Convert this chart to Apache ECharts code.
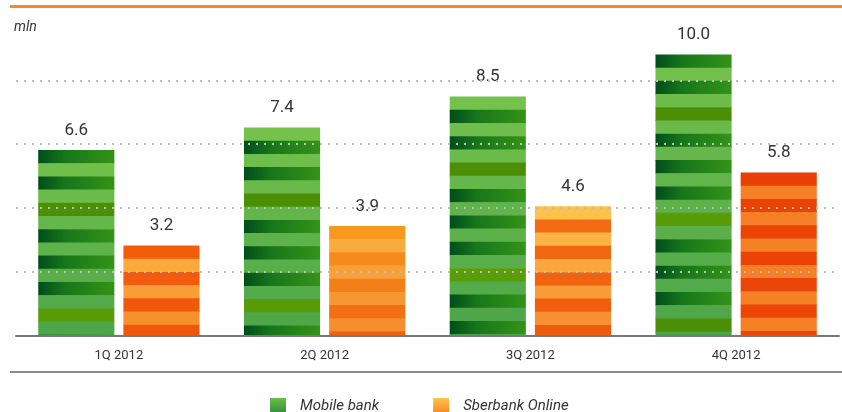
<!DOCTYPE html>
<html>
<head>
<meta charset="utf-8">
<script src="https://cdn.jsdelivr.net/npm/echarts@6/dist/echarts.min.js"></script>
<style>
  html, body { margin: 0; padding: 0; background: #fff; }
  #chart { width: 842px; height: 412px; }
</style>
</head>
<body>
<div id="chart"></div>
<script>
var categories = ['1Q 2012', '2Q 2012', '3Q 2012', '4Q 2012'];
var mobileBank = [6.6, 7.4, 8.5, 10.0];
var sberbankOnline = [3.2, 3.9, 4.6, 5.8];
var unitLabel = 'mln';

var FONT = 'Roboto';
var STRIPE = 13.2;

function mix(a, b, t) {
  var pa = parseInt(a.slice(1), 16), pb = parseInt(b.slice(1), 16);
  var r = Math.round(((pa >> 16) & 255) * (1 - t) + ((pb >> 16) & 255) * t);
  var g = Math.round(((pa >> 8) & 255) * (1 - t) + ((pb >> 8) & 255) * t);
  var bl = Math.round((pa & 255) * (1 - t) + (pb & 255) * t);
  return 'rgb(' + r + ',' + g + ',' + bl + ')';
}

// stripe looks for each series (style only)
var greenLook = {
  side: -1,
  phase: [0, 1, 1, 0],
  fill: function(k, darkIdx, t, bar) {
    if (k % 2 === 0) {
      if (darkIdx % 4 === 2) return darkIdx % 8 === 2 ? '#4c8f06' : '#5a9c08';
      return new echarts.graphic.LinearGradient(0, 0, 1, 0, [
        {offset: 0, color: '#004d1a'},
        {offset: 0.35, color: '#17761a'},
        {offset: 1, color: '#349317'}
      ]);
    }
    return mix('#74c14b', '#4aa44a', t);
  }
};

var orangeDark = [['#f25d0b', '#ef560a'], ['#f8991f', '#f0600e'], ['#f36d13', '#f05a0c'], ['#ea4006', '#ec4607']];
var orangeLight = [['#fbb040', '#f58628'], ['#fbb042', '#f5862a'], ['#fec14c', '#f5852a'], ['#f58026', '#f58026']];
var orangeLook = {
  side: 1,
  phase: [0, 0, 1, 0],
  fill: function(k, darkIdx, t, bar) {
    var p = k % 2 === 0 ? orangeDark[bar] : orangeLight[bar];
    return mix(p[0], p[1], t);
  }
};

function makeRender(look) {
  return function(params, api) {
    var idx = api.value(0);
    var val = api.value(1);
    var base = api.coord([idx, 0]);
    var top = api.coord([idx, val]);
    var band = api.size([1, 0])[0];
    var w = band * 0.37;
    var gap = band * 0.044;
    var x = look.side < 0 ? base[0] - gap / 2 - w : base[0] + gap / 2;
    var children = [];
    var y = top[1];
    var k = look.phase[idx];
    var darkIdx = 0;
    var total = base[1] - top[1];
    while (y < base[1] - 0.5) {
      var hh = Math.min(STRIPE, base[1] - y);
      var t = (y - top[1]) / total;
      children.push({
        type: 'rect',
        shape: {x: x, y: y, width: w, height: hh + 0.6},
        style: {fill: look.fill(k, darkIdx, t, idx)}
      });
      if (k % 2 === 0) darkIdx++;
      y += STRIPE;
      k++;
    }
    children.push({
      type: 'text',
      style: {
        text: val.toFixed(1),
        x: x + w / 2,
        y: top[1] - 11,
        align: 'center',
        verticalAlign: 'bottom',
        fontSize: 17,
        fontFamily: FONT,
        fill: '#333'
      }
    });
    return {type: 'group', children: children};
  };
}

var chart = echarts.init(document.getElementById('chart'));

chart.setOption({
  animation: false,
  backgroundColor: '#fff',
  textStyle: {fontFamily: FONT},
  title: {
    text: unitLabel,
    left: 9,
    top: 15,
    textStyle: {fontSize: 14, fontStyle: 'italic', fontWeight: 'normal', color: '#333', fontFamily: FONT}
  },
  graphic: [
    {type: 'rect', left: 10, top: 5, shape: {width: 832, height: 3}, style: {fill: '#f28c28'}},
    {type: 'rect', left: 10, top: 371, shape: {width: 832, height: 2}, style: {fill: '#8c8c8c'}}
  ],
  legend: {
    left: 265,
    top: 393,
    itemWidth: 16,
    itemHeight: 16,
    itemGap: 54,
    icon: 'rect',
    data: ['Mobile bank', 'Sberbank Online'],
    textStyle: {fontSize: 15, fontStyle: 'italic', color: '#333', fontFamily: FONT, padding: [0, 0, 0, 9]}
  },
  grid: {left: 16, right: 3, top: 16.5, bottom: 76.5},
  xAxis: {
    type: 'category',
    data: categories,
    z: 6,
    axisLine: {lineStyle: {color: '#777', width: 2}},
    axisTick: {show: false},
    axisLabel: {fontSize: 13, color: '#333', margin: 14, fontFamily: FONT}
  },
  yAxis: {
    type: 'value',
    min: 0,
    max: 11.35,
    interval: 2.27,
    z: 5,
    axisLabel: {show: false},
    axisLine: {show: false},
    axisTick: {show: false},
    splitLine: {
      showMinLine: false,
      showMaxLine: false,
      lineStyle: {color: '#bdbdbd', width: 2, type: [2, 6]}
    }
  },
  series: [
    {
      name: 'Mobile bank',
      type: 'custom',
      renderItem: makeRender(greenLook),
      itemStyle: {
        color: new echarts.graphic.LinearGradient(0, 0, 0, 1, [
          {offset: 0, color: '#6cbf45'},
          {offset: 1, color: '#2e8f3a'}
        ])
      },
      encode: {x: 0, y: 1},
      data: mobileBank.map(function(v, i) { return [i, v]; })
    },
    {
      name: 'Sberbank Online',
      type: 'custom',
      renderItem: makeRender(orangeLook),
      itemStyle: {
        color: new echarts.graphic.LinearGradient(0, 0, 0, 1, [
          {offset: 0, color: '#fdc24f'},
          {offset: 1, color: '#f7861f'}
        ])
      },
      encode: {x: 0, y: 1},
      data: sberbankOnline.map(function(v, i) { return [i, v]; })
    }
  ]
});
</script>
</body>
</html>
